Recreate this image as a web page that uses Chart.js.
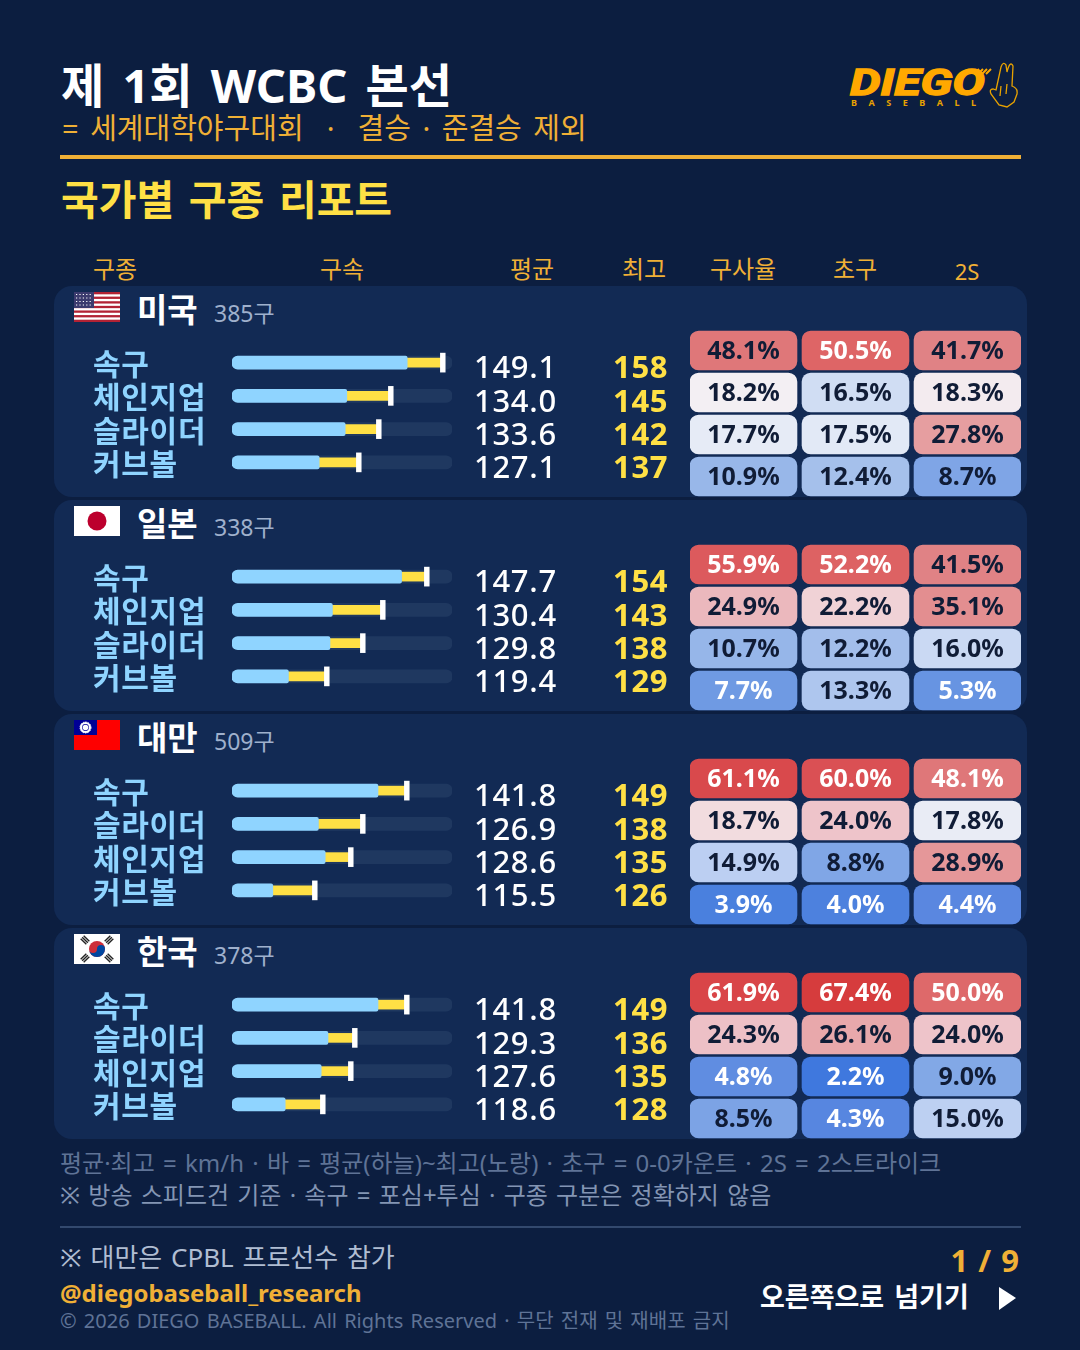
<!DOCTYPE html>
<html lang="ko">
<head>
<meta charset="utf-8">
<title>국가별 구종 리포트</title>
<script src="https://cdnjs.cloudflare.com/ajax/libs/Chart.js/4.4.3/chart.umd.min.js"></script>
<style>
  html, body { margin: 0; padding: 0; }
  body { width: 1080px; height: 1350px; background: #0c1e40; position: relative; overflow: hidden;
         font-family: "Noto Sans", "Noto Sans CJK KR", sans-serif; }
  .t { position: absolute; line-height: 1; white-space: nowrap; transform: translateY(-50%); }
  .c { transform: translate(-50%, -50%); }
  .rule { position: absolute; }
  .panel { position: absolute; left: 54px; width: 973px; height: 211px; background: #122a54; border-radius: 18px; }
  canvas { position: absolute; }
  svg { position: absolute; }
  .gold { color: #f0b036; }
</style>
</head>
<body>
<div class="t" style="left:61px;top:85px;font-size:47px;font-weight:700;color:#fff;word-spacing:6px">제 1회 WCBC 본선</div>
<div class="t gold" style="left:62px;top:127px;font-size:29px;word-spacing:4px">= 세계대학야구대회 &nbsp;·&nbsp; 결승 · 준결승 제외</div>
<div class="rule" style="left:60px;top:155px;width:961px;height:4px;background:#f0b036"></div>
<div class="t" style="left:61px;top:199px;font-size:41px;font-weight:700;color:#ffe045;word-spacing:4px">국가별 구종 리포트</div>

<div class="t gold" style="left:93px;top:269px;font-size:24px">구종</div>
<div class="t gold c" style="left:342px;top:269px;font-size:24px">구속</div>
<div class="t gold c" style="left:532px;top:269px;font-size:24px">평균</div>
<div class="t gold c" style="left:644px;top:269px;font-size:24px">최고</div>
<div class="t gold c" style="left:743px;top:269px;font-size:24px">구사율</div>
<div class="t gold c" style="left:855px;top:269px;font-size:24px">초구</div>
<div class="t gold c" style="left:967px;top:271px;font-size:22px">2S</div>

<div id="panels"></div>

<!-- 로고 -->
<svg style="left:846px;top:58px" width="180" height="54" viewBox="0 0 180 54">
  <text x="4" y="37" font-family="Roboto, 'Noto Sans'" font-size="36" font-weight="700" font-style="italic" fill="#ffa800" stroke="#ffa800" stroke-width="1.4" textLength="135" lengthAdjust="spacingAndGlyphs">DIEGO</text>
  <text x="5" y="48" font-family="'Noto Sans'" font-size="9" font-weight="700" fill="#e8a200" textLength="125">BASEBALL</text>
  <path d="M128 16l5-5M132 16l5-5M136 16l5-5M140 16l5-5" stroke="#ffa800" stroke-width="2" fill="none"/>
  <path d="M150 32 L155 9 Q157 3 160 7 L161 14 Q164 2 167 8 L166 28 Q172 30 171 36 L168 44 L161 49 L153 47 L145 36 Q143 31 147 31 Z M155 28 L154 38 M161 26 L160 36" stroke="#e8a200" stroke-width="1.3" fill="none"/>
</svg>

<div class="t" style="left:60px;top:1163px;font-size:24px;color:#5f7396;word-spacing:2px">평균·최고 = km/h · 바 = 평균(하늘)~최고(노랑) · 초구 = 0-0카운트 · 2S = 2스트라이크</div>
<div class="t" style="left:60px;top:1195px;font-size:24px;color:#8395b3;word-spacing:2px">※ 방송 스피드건 기준 · 속구 = 포심+투심 · 구종 구분은 정확하지 않음</div>
<div class="rule" style="left:60px;top:1226px;width:961px;height:2px;background:#33496e"></div>
<div class="t" style="left:60px;top:1257px;font-size:26px;color:#b0bdd2;word-spacing:2px">※ 대만은 CPBL 프로선수 참가</div>
<div class="t" style="left:60px;top:1293px;font-size:24px;font-weight:700;color:#f0b036">@diegobaseball_research</div>
<div class="t" style="left:60px;top:1321px;font-size:20px;color:#5f7396;word-spacing:2px">© 2026 DIEGO BASEBALL. All Rights Reserved · 무단 전재 및 재배포 금지</div>
<div class="t" style="right:61px;top:1260px;font-size:31px;font-weight:700;color:#f0b036;word-spacing:2px">1 / 9</div>
<div class="t" style="left:760px;top:1296px;font-size:27px;font-weight:700;color:#fff;word-spacing:3px">오른쪽으로 넘기기</div>
<svg style="left:998px;top:1286px" width="20" height="25"><polygon points="1,1 18,12 1,24" fill="#fff"/></svg>

<script>
// 구종별 데이터 (사진에서 읽은 값)
const usaPitches = ["속구", "체인지업", "슬라이더", "커브볼"];
const usaAvg = [149.1, 134.0, 133.6, 127.1];
const usaMax = [158, 145, 142, 137];
const usaUsage = [48.1, 18.2, 17.7, 10.9];
const usaFirst = [50.5, 16.5, 17.5, 12.4];
const usa2S = [41.7, 18.3, 27.8, 8.7];

const japanPitches = ["속구", "체인지업", "슬라이더", "커브볼"];
const japanAvg = [147.7, 130.4, 129.8, 119.4];
const japanMax = [154, 143, 138, 129];
const japanUsage = [55.9, 24.9, 10.7, 7.7];
const japanFirst = [52.2, 22.2, 12.2, 13.3];
const japan2S = [41.5, 35.1, 16.0, 5.3];

const taiwanPitches = ["속구", "슬라이더", "체인지업", "커브볼"];
const taiwanAvg = [141.8, 126.9, 128.6, 115.5];
const taiwanMax = [149, 138, 135, 126];
const taiwanUsage = [61.1, 18.7, 14.9, 3.9];
const taiwanFirst = [60.0, 24.0, 8.8, 4.0];
const taiwan2S = [48.1, 17.8, 28.9, 4.4];

const koreaPitches = ["속구", "슬라이더", "체인지업", "커브볼"];
const koreaAvg = [141.8, 129.3, 127.6, 118.6];
const koreaMax = [149, 136, 135, 128];
const koreaUsage = [61.9, 24.3, 4.8, 8.5];
const koreaFirst = [67.4, 26.1, 2.2, 4.3];
const korea2S = [50.0, 24.0, 9.0, 15.0];

const countryNames = ["미국", "일본", "대만", "한국"];
const pitchCounts = [385, 338, 509, 378];

const FONT = '"Noto Sans", "Noto Sans CJK KR", sans-serif';
const SPEED_MIN = 105.3;
const SPEED_MAX = 160.3;
const PANEL_TOP = 286;
const PANEL_STEP = 214;

// 색상 스케일 (값 -> 셀 배경)
const heatStops = [
  [2.2, "#3f78de"], [3.9, "#4a80de"], [4.4, "#5a87e0"], [5.3, "#6794e2"], [7.7, "#6f9ae3"],
  [8.7, "#7fa5e6"], [10.7, "#96b6e9"], [12.3, "#a4bfeb"], [13.3, "#aec6ee"], [15, "#bdd0f2"],
  [16.5, "#d0ddf3"], [17.6, "#e4eaf6"], [18.2, "#f3eff3"], [18.7, "#f2dcdf"], [22.2, "#f0d2d6"],
  [24, "#eec4ca"], [26.1, "#e8a8ab"], [28.9, "#e59799"], [35.1, "#e38e90"], [41.6, "#e08285"],
  [48.1, "#df7779"], [50.5, "#de6566"], [55.9, "#dc5a5d"], [60, "#da5054"], [61.5, "#d94649"],
  [67.4, "#d63c3d"],
];

function hexToRgb(hex) {
  return [1, 3, 5].map((i) => parseInt(hex.slice(i, i + 2), 16));
}

function heatColor(v) {
  for (let i = 1; i < heatStops.length; i++) {
    if (v <= heatStops[i][0]) {
      const [v0, c0] = heatStops[i - 1];
      const [v1, c1] = heatStops[i];
      const k = Math.max(0, (v - v0) / (v1 - v0));
      const a = hexToRgb(c0);
      const b = hexToRgb(c1);
      return `rgb(${a.map((x, j) => Math.round(x + (b[j] - x) * k)).join(",")})`;
    }
  }
  return heatStops[heatStops.length - 1][1];
}

function heatTextColor(v, col) {
  if (v < 8 || v >= 50 || (col === 2 && v >= 45)) return "#ffffff";
  return "#101c36";
}

function addCanvas(parent, left, top, width, height) {
  const canvas = document.createElement("canvas");
  canvas.width = width;
  canvas.height = height;
  canvas.style.cssText = `left:${left}px;top:${top}px;width:${width}px;height:${height}px`;
  parent.appendChild(canvas);
  return canvas;
}

/** 평균~최고 막대 + 평균/최고 숫자 */
function renderSpeedChart(canvas, pitches, avg, max) {
  const speedText = {
    id: "speedText",
    beforeDraw(chart) {
      chart.ctx.letterSpacing = "0.7px";
    },
    afterDraw(chart) {
      const { ctx, scales } = chart;
      ctx.save();
      ctx.textBaseline = "middle";
      ctx.textAlign = "left";
      pitches.forEach((_, i) => {
        const y = scales.y.getPixelForValue(i) + 7;
        ctx.font = `500 31px ${FONT}`;
        ctx.fillStyle = "#ffffff";
        ctx.fillText(avg[i].toFixed(1), 381, y);
        ctx.font = `700 31px ${FONT}`;
        ctx.fillStyle = "#ffe045";
        ctx.fillText(String(max[i]), 520, y);
      });
      ctx.restore();
    },
  };

  return new Chart(canvas, {
    type: "bar",
    data: {
      labels: pitches,
      datasets: [
        { data: pitches.map(() => [SPEED_MIN, SPEED_MAX]), backgroundColor: "#1f3860", barThickness: 13, borderRadius: 6, borderSkipped: false, grouped: false, order: 4 },
        { data: avg.map((v) => [SPEED_MIN, v]), backgroundColor: "#8fd4ff", barThickness: 13, borderRadius: { topLeft: 6, bottomLeft: 6, topRight: 2, bottomRight: 2 }, borderSkipped: false, grouped: false, order: 2 },
        { data: avg.map((v, i) => [v, max[i]]), backgroundColor: "#ffe045", barThickness: 9, borderSkipped: false, grouped: false, order: 3 },
        { data: max.map((v) => [v - 0.6, v + 0.6]), backgroundColor: "#ffffff", barThickness: 19, borderSkipped: false, grouped: false, order: 1 },
      ],
    },
    options: {
      indexAxis: "y",
      responsive: false,
      animation: false,
      devicePixelRatio: 1,
      layout: { padding: { left: 0, right: 238, top: 0.5, bottom: 0.5 } },
      plugins: { legend: { display: false }, tooltip: { enabled: false } },
      scales: {
        x: { display: false, min: SPEED_MIN, max: SPEED_MAX },
        y: {
          afterFit(scale) { scale.width = 139; },
          border: { display: false },
          grid: { display: false, drawTicks: false },
          ticks: { color: "#8fd4ff", font: { family: FONT, size: 30, weight: "700" }, crossAlign: "far", padding: 0, labelOffset: 4, autoSkip: false },
        },
      },
    },
    plugins: [speedText],
  });
}

/** 구사율 / 초구 / 2S 히트맵 셀 */
function renderHeatChart(canvas, pitches, usage, first, twoS) {
  const columns = [usage, first, twoS];
  const CELL = 0.955; // 셀 폭 (열 간격 대비)

  const cellText = {
    id: "cellText",
    afterDraw(chart) {
      const { ctx, scales } = chart;
      ctx.save();
      ctx.textAlign = "center";
      ctx.textBaseline = "middle";
      ctx.font = `700 25px ${FONT}`;
      columns.forEach((values, c) => {
        values.forEach((v, r) => {
          ctx.fillStyle = heatTextColor(v, c);
          ctx.fillText(`${v.toFixed(1)}%`, scales.x.getPixelForValue(c + CELL / 2), scales.y.getPixelForValue(r) + 1);
        });
      });
      ctx.restore();
    },
  };

  return new Chart(canvas, {
    type: "bar",
    data: {
      labels: pitches,
      datasets: columns.map((values, c) => ({
        data: values.map(() => [c, c + CELL]),
        backgroundColor: values.map(heatColor),
        barThickness: 39,
        borderRadius: 9,
        borderSkipped: false,
        grouped: false,
      })),
    },
    options: {
      indexAxis: "y",
      responsive: false,
      animation: false,
      devicePixelRatio: 1,
      layout: { padding: { top: 0.5, bottom: 0.5 } },
      plugins: { legend: { display: false }, tooltip: { enabled: false } },
      scales: {
        x: { display: false, min: 0, max: 2 + CELL },
        y: { display: false },
      },
    },
    plugins: [cellText],
  });
}

const flagSvgs = [
  // 미국
  `<rect width="46" height="30" fill="#fff"/>` +
    [0, 2, 4, 6, 8, 10, 12].map((i) => `<rect y="${(i * 30) / 13}" width="46" height="${30 / 13}" fill="#b22234"/>`).join("") +
    `<rect width="20" height="16" fill="#3c3b6e"/>` +
    [2.5, 6, 9.5, 13].map((y) => `<path d="M2 ${y}H18" stroke="#fff" stroke-width="1.1" stroke-dasharray="1.2 2.2"/>`).join(""),
  // 일본
  `<rect width="46" height="30" fill="#fff"/><circle cx="23" cy="15" r="9.5" fill="#bc002d"/>`,
  // 대만
  `<rect width="46" height="30" fill="#fe0000"/><rect width="23" height="15" fill="#000095"/>` +
    `<circle cx="11.5" cy="7.5" r="5.5" fill="#fff" stroke="#fff" stroke-dasharray="1.5 1"/><circle cx="11.5" cy="7.5" r="3.4" fill="#000095"/><circle cx="11.5" cy="7.5" r="2.8" fill="#fff"/>`,
  // 한국
  `<rect width="46" height="30" fill="#fff"/><circle cx="23" cy="15" r="8" fill="#cd2e3a"/>` +
    `<path d="M15 15a8 8 0 0 0 16 0a4 4 0 0 0-8 0a4 4 0 0 1-8 0" fill="#0047a0"/>` +
    [[11, 6, 45], [35, 6, -45], [11, 24, -45], [35, 24, 45]].map(([x, y, a]) =>
      `<g transform="translate(${x} ${y}) rotate(${a})"><rect x="-4" y="-2.8" width="8" height="1.4" fill="#222"/><rect x="-4" y="-0.7" width="8" height="1.4" fill="#222"/><rect x="-4" y="1.4" width="8" height="1.4" fill="#222"/></g>`).join(""),
];

function renderCountry(index, pitches, avg, max, usage, first, twoS) {
  const host = document.getElementById("panels");
  const top = PANEL_TOP + PANEL_STEP * index;

  const panel = document.createElement("div");
  panel.className = "panel";
  panel.style.top = `${top}px`;
  host.appendChild(panel);

  host.insertAdjacentHTML("beforeend",
    `<svg style="left:74px;top:${top + 6}px" width="46" height="30" viewBox="0 0 46 30">${flagSvgs[index]}</svg>` +
    `<div class="t" style="left:137px;top:${top + 23}px;font-size:33px;font-weight:700;color:#fff">${countryNames[index]}</div>` +
    `<div class="t" style="left:214px;top:${top + 27}px;font-size:23px;color:#9fb0cc">${pitchCounts[index]}구</div>`);

  renderSpeedChart(addCanvas(host, 93, top + 42, 597, 169), pitches, avg, max);
  renderHeatChart(addCanvas(host, 690, top + 43, 331, 169), pitches, usage, first, twoS);
}

renderCountry(0, usaPitches, usaAvg, usaMax, usaUsage, usaFirst, usa2S);
renderCountry(1, japanPitches, japanAvg, japanMax, japanUsage, japanFirst, japan2S);
renderCountry(2, taiwanPitches, taiwanAvg, taiwanMax, taiwanUsage, taiwanFirst, taiwan2S);
renderCountry(3, koreaPitches, koreaAvg, koreaMax, koreaUsage, koreaFirst, korea2S);
</script>
</body>
</html>
